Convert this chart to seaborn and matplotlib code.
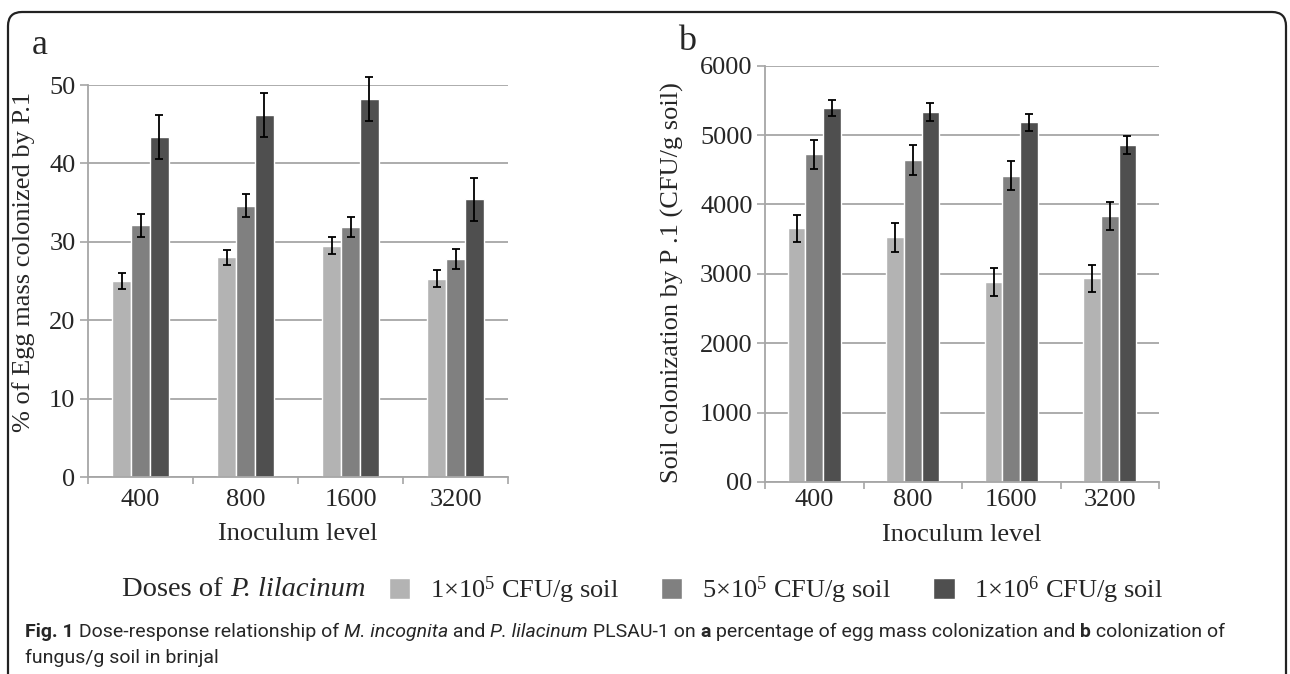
import matplotlib
matplotlib.use("Agg")
import matplotlib.pyplot as plt
from matplotlib import font_manager
from matplotlib.patches import FancyBboxPatch
from matplotlib.transforms import IdentityTransform
import pandas as pd
import seaborn as sns

# data
levels = ["400", "800", "1600", "3200"]
doses = ["1×10$^{5}$ CFU/g soil", "5×10$^{5}$ CFU/g soil", "1×10$^{6}$ CFU/g soil"]
bar_colors = ["#b3b3b3", "#808080", "#4f4f4f"]

egg_low = [25.0, 28.0, 29.5, 25.3]
egg_mid = [32.1, 34.6, 31.9, 27.8]
egg_high = [43.4, 46.2, 48.2, 35.4]
egg_low_err = [1.0, 1.0, 1.1, 1.1]
egg_mid_err = [1.5, 1.5, 1.3, 1.3]
egg_high_err = [2.8, 2.8, 2.8, 2.7]

soil_low = [3655, 3525, 2885, 2935]
soil_mid = [4725, 4640, 4415, 3835]
soil_high = [5395, 5330, 5185, 4855]
soil_low_err = [195, 210, 205, 195]
soil_mid_err = [210, 210, 205, 200]
soil_high_err = [115, 130, 125, 130]

egg_ticks = [0, 10, 20, 30, 40, 50]
soil_ticks = [0, 1000, 2000, 3000, 4000, 5000, 6000]
soil_tick_labels = ["00", "1000", "2000", "3000", "4000", "5000", "6000"]

sns.set_theme(style="white")
SERIF = ["Liberation Serif", "DejaVu Serif"]
plt.rcParams["font.family"] = SERIF
plt.rcParams["mathtext.fontset"] = "custom"
plt.rcParams["mathtext.rm"] = "Liberation Serif"
plt.rcParams["mathtext.it"] = "Liberation Serif:italic"
plt.rcParams["mathtext.bf"] = "Liberation Serif:bold"

names = {f.name for f in font_manager.fontManager.ttflist}
cap_font = "Liberation Sans Narrow" if "Liberation Sans Narrow" in names else "Roboto"

W, H = 1290, 674
fig = plt.figure(figsize=(W / 100, H / 100), dpi=100)
fig.patch.set_facecolor("white")

GRID = "#a6a6a6"
FS = 19


def long_table(low, mid, high):
    rows = []
    for vals, d in zip([low, mid, high], doses):
        for lv, v in zip(levels, vals):
            rows.append({"level": lv, "dose": d, "value": v})
    return pd.DataFrame(rows)


def draw_panel(ax, low, mid, high, errs, ticks, ticklabels, ylabel, xpad):
    df = long_table(low, mid, high)
    sns.barplot(data=df, x="level", y="value", hue="dose", palette=bar_colors,
                width=0.54, gap=0, errorbar=None, saturation=1, legend=False, ax=ax)
    for cont, err in zip(ax.containers, errs):
        xs = [b.get_x() + b.get_width() / 2 for b in cont]
        ys = [b.get_height() for b in cont]
        eb = ax.errorbar(xs, ys, yerr=err, fmt="none", ecolor="black",
                         elinewidth=1.3, capsize=2.6, capthick=1.3)
        for art in eb.lines[1] + eb.lines[2]:
            art.set_clip_on(False)
    ax.set_xlim(-0.5, 3.5)
    ax.set_ylim(ticks[0], ticks[-1])
    ax.set_yticks(ticks, ticklabels, fontfamily=SERIF)
    ax.set_xticks(range(len(levels)), levels, fontfamily=SERIF)
    ax.set_xticks([-0.5, 0.5, 1.5, 2.5, 3.5], minor=True)
    ax.tick_params(axis="x", which="major", length=0, pad=xpad, labelsize=FS)
    ax.tick_params(axis="x", which="minor", bottom=True, length=5, width=1.2,
                   color=GRID, direction="out")
    ax.tick_params(axis="y", left=True, length=6, width=1.2, color=GRID,
                   direction="out", pad=3, labelsize=FS)
    for lab in ax.get_xticklabels() + ax.get_yticklabels():
        lab.set_fontfamily(SERIF)
    ax.grid(axis="y", color=GRID, lw=1.3)
    ax.set_axisbelow(True)
    for s in ["top", "right"]:
        ax.spines[s].set_visible(False)
    for s in ["left", "bottom"]:
        ax.spines[s].set_color(GRID)
        ax.spines[s].set_linewidth(1.3)
    ax.set_xlabel("Inoculum level", fontsize=FS)
    ax.set_ylabel(ylabel, fontsize=FS)
    ax.set_facecolor("white")


ax_a = fig.add_axes([88 / W, 1 - 477 / H, 420 / W, 392 / H])
draw_panel(ax_a, egg_low, egg_mid, egg_high,
           [egg_low_err, egg_mid_err, egg_high_err],
           egg_ticks, [str(t) for t in egg_ticks],
           "% of Egg mass colonized by P.1", 9)
ax_a.yaxis.set_label_coords(-0.126, 0.548)
ax_a.xaxis.set_label_coords(0.5, -0.117)

ax_b = fig.add_axes([765 / W, 1 - 482 / H, 394 / W, 416.3 / H])
draw_panel(ax_b, soil_low, soil_mid, soil_high,
           [soil_low_err, soil_mid_err, soil_high_err],
           soil_ticks, soil_tick_labels,
           "Soil colonization by P .1 (CFU/g soil)", 5)
ax_b.yaxis.set_label_coords(-0.206, 0.478)
ax_b.xaxis.set_label_coords(0.5, -0.101)

fig.text(40 / W, 1 - 45 / H, "a", fontsize=26, ha="center", va="center")
fig.text(687 / W, 1 - 42 / H, "b", fontsize=26, ha="center", va="center")

renderer = fig.canvas.get_renderer()


def text_run(x, y, parts, size, family):
    # parts: (text, weight, style); x, y in pixels from top-left
    for txt, weight, style in parts:
        probe = fig.text(0, 0, "|" + txt + "|", fontsize=size, family=family,
                         weight=weight, style=style)
        bars = fig.text(0, 0, "||", fontsize=size, family=family,
                        weight=weight, style=style)
        wdt = probe.get_window_extent(renderer).width - bars.get_window_extent(renderer).width
        probe.remove()
        bars.remove()
        fig.text(x, H - y, txt, fontsize=size, family=family, weight=weight,
                 style=style, ha="left", va="center", transform=IdentityTransform())
        x += wdt
    return x


# legend row
text_run(122, 590, [("Doses of ", "normal", "normal"),
                    ("P. lilacinum", "normal", "italic")], 20.5, SERIF)
handles = [c[0] for c in ax_a.containers]
fig.legend(handles, doses, loc="center left", bbox_to_anchor=(389 / W, 1 - 590 / H),
           ncol=3, frameon=False, fontsize=FS, handlelength=0.8, handleheight=0.8,
           handletextpad=0.75, columnspacing=1.6, borderpad=0, borderaxespad=0)

# caption
cap_size = 14
line1 = [("Fig. 1", "bold", "normal"),
         (" Dose-response relationship of ", "normal", "normal"),
         ("M. incognita", "normal", "italic"),
         (" and ", "normal", "normal"),
         ("P. lilacinum", "normal", "italic"),
         (" PLSAU-1 on ", "normal", "normal"),
         ("a", "bold", "normal"),
         (" percentage of egg mass colonization and ", "normal", "normal"),
         ("b", "bold", "normal"),
         (" colonization of", "normal", "normal")]
text_run(25, 632, line1, cap_size, [cap_font, "DejaVu Sans"])
text_run(25, 658, [("fungus/g soil in brinjal", "normal", "normal")],
         cap_size, [cap_font, "DejaVu Sans"])

frame = FancyBboxPatch((8, -20), 1278, H - 12 + 20,
                       boxstyle="round,pad=0,rounding_size=14",
                       transform=IdentityTransform(), fill=False,
                       ec="#222222", lw=1.6)
fig.add_artist(frame)

fig.savefig("out.png", dpi=100)
